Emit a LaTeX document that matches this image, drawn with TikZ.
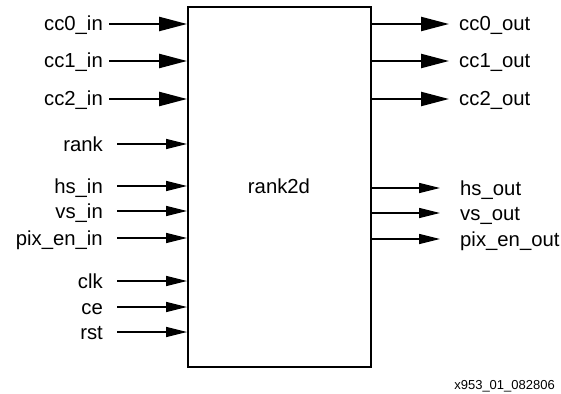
\documentclass[tikz,border=0pt]{standalone}
\usepackage{fontspec}
\setmainfont{Liberation Sans}
\usetikzlibrary{arrows.meta}
\begin{document}
\begin{tikzpicture}[x=1pt,y=-1pt,
  lbl/.style={inner sep=0pt, text height=14pt, text depth=0pt, font=\fontsize{20.3}{21}\selectfont},
  inlbl/.style={lbl, anchor=east},
  outlbl/.style={lbl, anchor=west},
  bigarrow/.style={line width=2.2pt, -{Triangle[length=28pt,width=14pt]}},
  smallarrow/.style={line width=1.3pt, -{Triangle[length=21pt,width=10pt]}},
  blk/.style={draw, line width=1.8pt, minimum width=183pt, minimum height=360pt, inner sep=0pt}]
\useasboundingbox (0,0) rectangle (561,393);
\node[blk] (box) at (279.5,187) {};
\node[lbl] (title) at (279,186) {rank2d};
% inputs
\node[inlbl] (cc0in) at (103,24) {cc0\_in};
\node[inlbl] (cc1in) at (103,61) {cc1\_in};
\node[inlbl] (cc2in) at (103,99) {cc2\_in};
\node[inlbl] (rank) at (103,144) {rank};
\node[inlbl] (hsin) at (103,186) {hs\_in};
\node[inlbl] (vsin) at (103,211) {vs\_in};
\node[inlbl] (pixin) at (103,238) {pix\_en\_in};
\node[inlbl] (clk) at (103,281) {clk};
\node[inlbl] (ce) at (103,307) {ce};
\node[inlbl] (rst) at (103,332) {rst};
\foreach \n in {cc0in,cc1in,cc2in}
  \draw[bigarrow] ([xshift=6pt]\n.east) -- (\n -| box.west);
\foreach \n in {rank,hsin,vsin,pixin,clk,ce,rst}
  \draw[smallarrow] ([xshift=14pt]\n.east) -- (\n -| box.west);
% outputs
\node[outlbl] (cc0out) at (459,24) {cc0\_out};
\node[outlbl] (cc1out) at (459,61) {cc1\_out};
\node[outlbl] (cc2out) at (459,99) {cc2\_out};
\node[outlbl] (hsout) at (460,188) {hs\_out};
\node[outlbl] (vsout) at (460,213) {vs\_out};
\node[outlbl] (pixout) at (460,239) {pix\_en\_out};
\foreach \n in {cc0out,cc1out,cc2out}
  \draw[bigarrow] (\n -| box.east) -- ([xshift=-10pt]\n.west);
\foreach \n in {hsout,vsout,pixout}
  \draw[smallarrow] (\n -| box.east) -- ([xshift=-20pt]\n.west);
\node[anchor=base east, inner sep=0pt, font=\fontsize{13}{14}\selectfont] (fig) at (555,389) {x953\_01\_082806};
\end{tikzpicture}
\end{document}
